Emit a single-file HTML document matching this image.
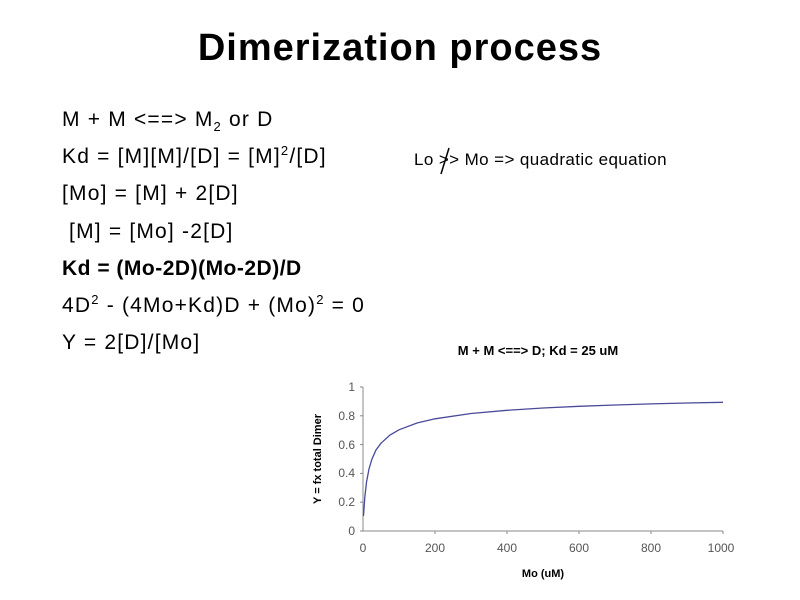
<!DOCTYPE html>
<html><head><meta charset="utf-8"><style>
body{margin:0;background:#fff;width:800px;height:600px;overflow:hidden;position:relative;font-family:"Liberation Sans",sans-serif}
.t{position:absolute;left:0;width:800px;text-align:center;top:27px;font-size:38px;letter-spacing:1px;font-weight:bold;color:#000}
.l{position:absolute;left:62px;font-size:21px;letter-spacing:1.2px;color:#000;white-space:nowrap;line-height:24px}
sup,sub{font-size:13px;line-height:0}
</style></head><body>
<div class="t">Dimerization process</div>
<div class="l" style="top:108px">M + M &lt;==&gt; M<sub>2</sub> or D</div>
<div class="l" style="top:145px">Kd = [M][M]/[D] = [M]<sup>2</sup>/[D]</div>
<div class="l" style="top:182px">[Mo] = [M] + 2[D]</div>
<div class="l" style="top:220px">&nbsp;[M] = [Mo] -2[D]</div>
<div class="l" style="top:257px;font-weight:bold;letter-spacing:0.5px">Kd = (Mo-2D)(Mo-2D)/D</div>
<div class="l" style="top:294px">4D<sup>2</sup> - (4Mo+Kd)D + (Mo)<sup>2</sup> = 0</div>
<div class="l" style="top:331px">Y = 2[D]/[Mo]</div>
<div class="l" style="left:414px;top:148px;font-size:17px;letter-spacing:0.4px">Lo &gt;&gt; Mo =&gt; quadratic equation</div>
<svg style="position:absolute;left:0;top:0" width="800" height="600">
<line x1="441" y1="174" x2="449" y2="148" stroke="#000" stroke-width="1.5"/>
<text x="538" y="355" font-size="13" font-weight="bold" text-anchor="middle" font-family="Liberation Sans">M + M &lt;==&gt; D; Kd = 25 uM</text>
<g stroke="#888" stroke-width="1" fill="none">
<line x1="363" y1="387" x2="363" y2="531"/>
<line x1="363" y1="531" x2="723" y2="531"/>
<line x1="360" y1="387" x2="363" y2="387"/><line x1="360" y1="415.8" x2="363" y2="415.8"/><line x1="360" y1="444.6" x2="363" y2="444.6"/><line x1="360" y1="473.4" x2="363" y2="473.4"/><line x1="360" y1="502.2" x2="363" y2="502.2"/><line x1="360" y1="531" x2="363" y2="531"/>
<line x1="435" y1="531" x2="435" y2="534"/><line x1="507" y1="531" x2="507" y2="534"/><line x1="579" y1="531" x2="579" y2="534"/><line x1="651" y1="531" x2="651" y2="534"/><line x1="723" y1="531" x2="723" y2="534"/>
</g>
<g font-size="12" fill="#555" font-family="Liberation Sans" text-anchor="end">
<text x="355" y="391">1</text><text x="355" y="420">0.8</text><text x="355" y="449">0.6</text><text x="355" y="477">0.4</text><text x="355" y="506">0.2</text><text x="355" y="535">0</text>
</g>
<g font-size="12" fill="#555" font-family="Liberation Sans" text-anchor="middle">
<text x="363" y="552">0</text><text x="435" y="552">200</text><text x="507" y="552">400</text><text x="579" y="552">600</text><text x="651" y="552">800</text><text x="721" y="552">1000</text>
</g>
<text x="543" y="577" font-size="11" font-weight="bold" text-anchor="middle" font-family="Liberation Sans">Mo (uM)</text>
<text transform="translate(321,459) rotate(-90)" font-size="11" font-weight="bold" text-anchor="middle" font-family="Liberation Sans">Y = fx total Dimer</text>
<polyline fill="none" stroke="#4a4a9a" stroke-width="1.3" points="363.4,516 363.7,513.3 364.8,497.3 366.6,481.5 369,469 372,459 376,450 381,443.2 390,435 399,429.8 417,423 435,418.8 471,413.5 507,410.3 543,408 579,406.3 615,405 651,403.9 687,403 723,402.3"/>
</svg>
</body></html>
